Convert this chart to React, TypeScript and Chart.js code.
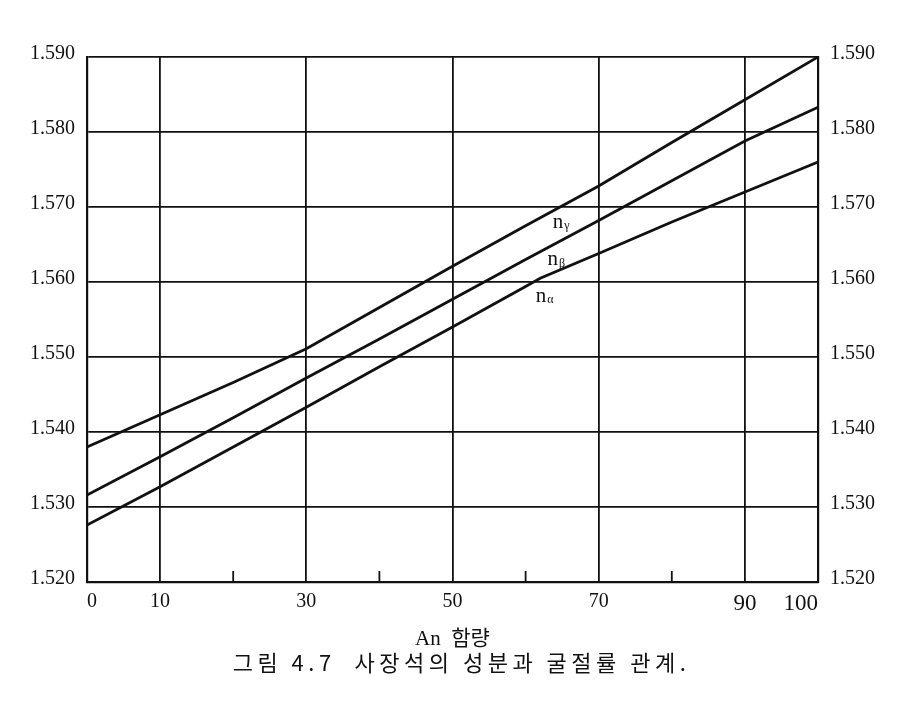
import React, { useEffect, useRef } from "react";
import { Chart, registerables } from "chart.js";

Chart.register(...registerables);

// An content (x) and refractive indices (y) for each curve
const xGamma = [0, 10, 20, 30, 40, 50, 60, 70, 80, 90, 100];
const nGamma = [1.538, 1.5423, 1.5466, 1.5511, 1.5566, 1.5621, 1.5675, 1.5728, 1.5786, 1.5843, 1.59];

const xBeta = [0, 10, 20, 30, 40, 50, 60, 70, 80, 90, 100];
const nBeta = [1.5316, 1.5367, 1.5419, 1.5472, 1.5524, 1.5577, 1.563, 1.5682, 1.5735, 1.5788, 1.5833];

const xAlpha = [0, 10, 20, 30, 40, 50, 60, 62, 70, 80, 90, 100];
const nAlpha = [1.5276, 1.5327, 1.538, 1.5433, 1.5487, 1.554, 1.5594, 1.5605, 1.5638, 1.568, 1.572, 1.576];

// Axes
const xTickValues = [0, 10, 20, 30, 40, 50, 60, 70, 80, 90, 100];
const xLabeled = [0, 10, 30, 50, 70, 90, 100];
const xGridValues = [0, 10, 30, 50, 70, 90, 100];
const xMinorInner = [20, 40, 60, 80];
const yTickValues = [1.52, 1.53, 1.54, 1.55, 1.56, 1.57, 1.58, 1.59];

// Curve labels (data coordinates)
const curveLabelNames = ["n", "n", "n"];
const curveLabelSubs = ["γ", "β", "α"];
const curveLabelX = [63.7, 63.0, 61.4];
const curveLabelY = [1.568, 1.563, 1.5581];

const xTitle = "An  함량";
const caption = "그림 4.7  사장석의 성분과 굴절률 관계.";

const SERIF = '"Liberation Serif", "Times New Roman", serif';
const KR = '"Noto Sans CJK KR", "Noto Sans", sans-serif';

const toPts = (xs: number[], ys: number[]) => xs.map((x, i) => ({ x, y: ys[i] }));

export default function App() {
  const ref = useRef<HTMLCanvasElement | null>(null);

  useEffect(() => {
    if (!ref.current) return;

    const decorPlugin = {
      id: "decor",
      afterDraw(chart: any) {
        const ctx = chart.ctx;
        const xs = chart.scales.x;
        const ys = chart.scales.y;
        const area = chart.chartArea;
        ctx.save();
        // inner minor ticks
        ctx.strokeStyle = "#111";
        ctx.lineWidth = 1.8;
        xMinorInner.forEach((v) => {
          const px = xs.getPixelForValue(v);
          ctx.beginPath();
          ctx.moveTo(px, area.bottom);
          ctx.lineTo(px, area.bottom - 11);
          ctx.stroke();
        });
        // curve labels
        ctx.fillStyle = "#111";
        ctx.textBaseline = "middle";
        ctx.textAlign = "left";
        curveLabelNames.forEach((name, i) => {
          const px = xs.getPixelForValue(curveLabelX[i]);
          const py = ys.getPixelForValue(curveLabelY[i]);
          ctx.font = `21px ${SERIF}`;
          ctx.fillText(name, px, py);
          const w = ctx.measureText(name).width;
          ctx.font = `12px ${SERIF}`;
          ctx.fillText(curveLabelSubs[i], px + w + 1, py + 4);
        });
        // caption
        ctx.font = `22px ${KR}`;
        (ctx as any).letterSpacing = "4.5px";
        ctx.textAlign = "center";
        ctx.textBaseline = "middle";
        ctx.fillText(caption, chart.width / 2, area.bottom + 81);
        ctx.restore();
      },
    };

    const lineStyle = {
      borderColor: "#111",
      borderWidth: 2.8,
      pointRadius: 0,
      tension: 0,
      fill: false,
    };

    const chart = new Chart(ref.current, {
      type: "line",
      data: {
        datasets: [
          { label: "nγ", data: toPts(xGamma, nGamma), ...lineStyle },
          { label: "nβ", data: toPts(xBeta, nBeta), ...lineStyle },
          { label: "nα", data: toPts(xAlpha, nAlpha), ...lineStyle },
        ],
      },
      options: {
        responsive: false,
        animation: false,
        layout: { padding: { top: 57, bottom: 49, left: 0, right: 0 } },
        plugins: {
          legend: { display: false },
          tooltip: { enabled: false },
          title: { display: false },
        },
        scales: {
          x: {
            type: "linear",
            min: 0,
            max: 100,
            afterBuildTicks: (scale: any) => {
              scale.ticks = xTickValues.map((v) => ({ value: v }));
            },
            afterFit: (scale: any) => {
              scale.height = 70;
            },
            grid: {
              color: (c: any) => (xGridValues.includes(c.tick?.value) ? "#111" : "rgba(0,0,0,0)"),
              lineWidth: 1.8,
              drawTicks: false,
            },
            border: { display: true, color: "#111", width: 2.2 },
            ticks: {
              autoSkip: false,
              maxRotation: 0,
              align: "inner",
              padding: 8,
              color: "#111",
              font: (c: any) => ({
                family: SERIF,
                size: c.tick && c.tick.value >= 90 ? 23 : 20,
              }),
              callback: (v: any) => (xLabeled.includes(Number(v)) ? String(v) : ""),
            },
            title: {
              display: true,
              text: xTitle,
              color: "#111",
              font: { family: `"Liberation Serif", "Noto Sans CJK KR", serif`, size: 21 },
              padding: { top: 3, bottom: 0 },
            },
          },
          y: {
            type: "linear",
            position: "left",
            min: 1.52,
            max: 1.59,
            afterBuildTicks: (scale: any) => {
              scale.ticks = yTickValues.map((v) => ({ value: v }));
            },
            afterFit: (scale: any) => {
              scale.width = 87;
            },
            grid: { color: "#111", lineWidth: 1.8, drawTicks: false },
            border: { display: true, color: "#111", width: 2.2 },
            ticks: {
              color: "#111",
              padding: 12,
              labelOffset: -3,
              font: { family: SERIF, size: 20 },
              callback: (v: any) => Number(v).toFixed(3),
            },
          },
          y2: {
            type: "linear",
            position: "right",
            min: 1.52,
            max: 1.59,
            afterBuildTicks: (scale: any) => {
              scale.ticks = yTickValues.map((v) => ({ value: v }));
            },
            afterFit: (scale: any) => {
              scale.width = 105;
            },
            grid: { display: false, drawTicks: false },
            border: { display: true, color: "#111", width: 2.2 },
            ticks: {
              color: "#111",
              padding: 12,
              labelOffset: -3,
              font: { family: SERIF, size: 20 },
              callback: (v: any) => Number(v).toFixed(3),
            },
          },
        },
      } as any,
      plugins: [decorPlugin],
    });

    return () => chart.destroy();
  }, []);

  return (
    <canvas
      ref={ref}
      width={923}
      height={701}
      style={{ position: "absolute", left: 0, top: 0, display: "block", background: "#fff" }}
    />
  );
}
